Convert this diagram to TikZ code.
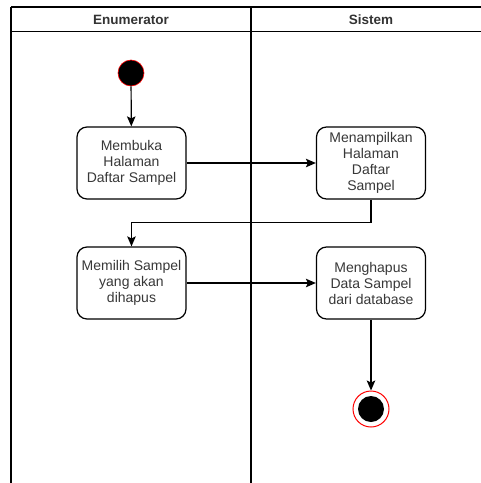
\documentclass[tikz,border=0pt]{standalone}
\usepackage{fontspec}
\setmainfont{Liberation Sans}
\usetikzlibrary{arrows.meta}
\begin{document}
\begin{tikzpicture}[x=1pt,y=-1pt,
  lane/.style={draw=black,line width=1.3pt},
  act/.style={draw=black,line width=1.2pt,rounded corners=10pt,fill=white,
    minimum width=109pt,minimum height=72pt,align=center,inner sep=1pt,
    font=\fontsize{14}{16}\selectfont,text=black!78},
  flow/.style={draw=black,line width=1.2pt,-{Stealth[length=10pt,width=8.5pt,inset=2pt]}},
  hdr/.style={font=\bfseries\fontsize{13.5}{16}\selectfont,text=black!80},
  startst/.style={circle,fill=black,draw=red,line width=0.6pt,minimum size=26pt,inner sep=0pt},
  endst/.style={circle,fill=white,draw=red,line width=1pt,minimum size=36pt,inner sep=0pt}
]
\useasboundingbox (0,0) rectangle (481,483);
% swimlanes
\draw[lane,line width=2pt] (11,6.5) -- (495,6.5);
\draw[lane,line width=2pt] (11,6.5) -- (11,490);
\draw[lane] (11,31.5) -- (495,31.5);
\draw[lane] (251,6.5) -- (251,490);
\node[hdr] (h1) at (131,19.5) {Enumerator};
\node[hdr] (h2) at (371,19.5) {Sistem};
% nodes
\node[startst] (start) at (131,73) {};
\node[act] (a1) at (131.5,163) {Membuka\\Halaman\\Daftar Sampel};
\node[act] (a2) at (371,163) {Menampilkan\\Halaman\\Daftar\\Sampel};
\node[act] (a3) at (131.5,283) {Memilih Sampel\\yang akan\\dihapus};
\node[act] (a4) at (371,283) {Menghapus\\Data Sampel\\dari database};
\node[endst] (end) at (371,409) {};
\node[circle,fill=black,minimum size=26pt,inner sep=0pt] (endin) at (end) {};
% flows
\draw[flow] (start) -- (a1);
\draw[flow] (a1) -- (a2);
\draw[flow] (a2.south) -- ++(0,23) -| (a3.north);
\draw[flow] (a3) -- (a4);
\draw[flow] (a4) -- (end);
\end{tikzpicture}
\end{document}
